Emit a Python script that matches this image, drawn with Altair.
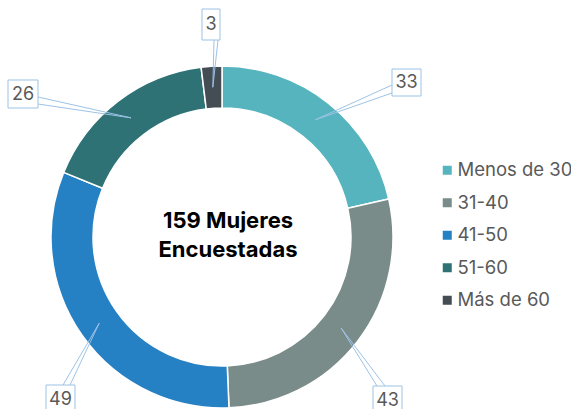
import math
import altair as alt
import pandas as pd

# ---- data ----
categories = ["Menos de 30", "31-40", "41-50", "51-60", "Más de 60"]
values = [33, 43, 49, 26, 3]
colors = ["#56B4BE", "#7A8C89", "#2581C4", "#2E7276", "#434D53"]
center_lines = ["159 Mujeres", "Encuestadas"]

# ---- layout (pixels) ----
W, H = 571, 409
CX, CY = 222, 237
R_OUT, R_IN = 171, 129
R_TIP = (R_OUT + R_IN) / 2
FONT = "Inter"
LINE_COL = "#9DC3E6"
TEXT_COL = "#595959"

# label box centre offsets from the donut centre, and box sizes
box_off = [(184.5, -154.5), (165.5, 163.0), (-161.5, 162.0), (-199.0, -143.0), (-11.0, -212.5)]
box_size = [(29, 27), (29, 28), (29, 28), (30, 28), (18, 31)]
# where the two callout lines leave each box (relative to box centre)
base_off = [[(-14.5, 2.5), (-14.5, 10.5)],
            [(-10.5, -14), (-2.5, -14)],
            [(2.5, -14), (9.5, -14)],
            [(15, 3), (15, 10)],
            [(3, 15.5), (7, 15.5)]]

total = sum(values)
cum = 0
slice_rows, box_rows, line_rows = [], [], []
for i, (c, v) in enumerate(zip(categories, values)):
    mid = (cum + v / 2) / total * 2 * math.pi
    cum += v
    tx, ty = R_TIP * math.sin(mid), -R_TIP * math.cos(mid)
    bx, by = box_off[i]
    bw, bh = box_size[i]
    slice_rows.append({"cat": c, "value": v, "idx": i})
    box_rows.append({"x": bx - bw / 2, "x2": bx + bw / 2, "y": by - bh / 2, "y2": by + bh / 2,
                     "cx": bx, "cy": by + 0.5, "label": str(v)})
    for ox, oy in base_off[i]:
        line_rows.append({"x": bx + ox, "y": by + oy, "x2": tx, "y2": ty})

slices = pd.DataFrame(slice_rows)
boxes = pd.DataFrame(box_rows)
lines = pd.DataFrame(line_rows)

xs = alt.Scale(domain=[-CX, W - CX], range=[0, W], nice=False, zero=False)
ys = alt.Scale(domain=[-CY, H - CY], range=[0, H], nice=False, zero=False)

donut = alt.Chart(slices).mark_arc(
    innerRadius=R_IN, outerRadius=R_OUT, stroke="white", strokeWidth=1.5
).encode(
    theta=alt.Theta("value:Q", stack=True),
    order=alt.Order("idx:Q"),
    color=alt.Color(
        "cat:N",
        scale=alt.Scale(domain=categories, range=colors),
        sort=categories,
        legend=alt.Legend(
            title=None, orient="none", legendX=438, legendY=161,
            symbolType="square", symbolSize=81, symbolStrokeWidth=0,
            labelFontSize=18.5, labelFont=FONT, labelColor=TEXT_COL,
            labelOffset=1, rowPadding=13.5, labelLimit=200,
        ),
    ),
    x=alt.value(CX),
    y=alt.value(CY),
)

leaders = alt.Chart(lines).mark_rule(color=LINE_COL, strokeWidth=1).encode(
    x=alt.X("x:Q", scale=xs, axis=None),
    y=alt.Y("y:Q", scale=ys, axis=None),
    x2="x2:Q",
    y2="y2:Q",
)

rects = alt.Chart(boxes).mark_rect(fill="white", stroke=LINE_COL, strokeWidth=1).encode(
    x=alt.X("x:Q", scale=xs, axis=None),
    x2="x2:Q",
    y=alt.Y("y:Q", scale=ys, axis=None),
    y2="y2:Q",
)

box_text = alt.Chart(boxes).mark_text(
    font=FONT, fontSize=18, color=TEXT_COL, baseline="middle", align="center"
).encode(
    x=alt.X("cx:Q", scale=xs, axis=None),
    y=alt.Y("cy:Q", scale=ys, axis=None),
    text="label:N",
)

center = pd.DataFrame({"t": center_lines, "x": [6, 6], "y": [-9, 20]})
center_text = alt.Chart(center).mark_text(
    font=FONT, fontSize=22, fontWeight="bold", color="#000000", baseline="alphabetic", align="center"
).encode(
    x=alt.X("x:Q", scale=xs, axis=None),
    y=alt.Y("y:Q", scale=ys, axis=None),
    text="t:N",
)

chart = alt.layer(donut, leaders, rects, box_text, center_text).properties(
    width=W, height=H, padding=0, autosize=alt.AutoSizeParams(type="none")
).configure_view(stroke=None).resolve_scale(x="shared", y="shared")

chart.save("out.html", embed_options={"renderer": "svg", "actions": False})
